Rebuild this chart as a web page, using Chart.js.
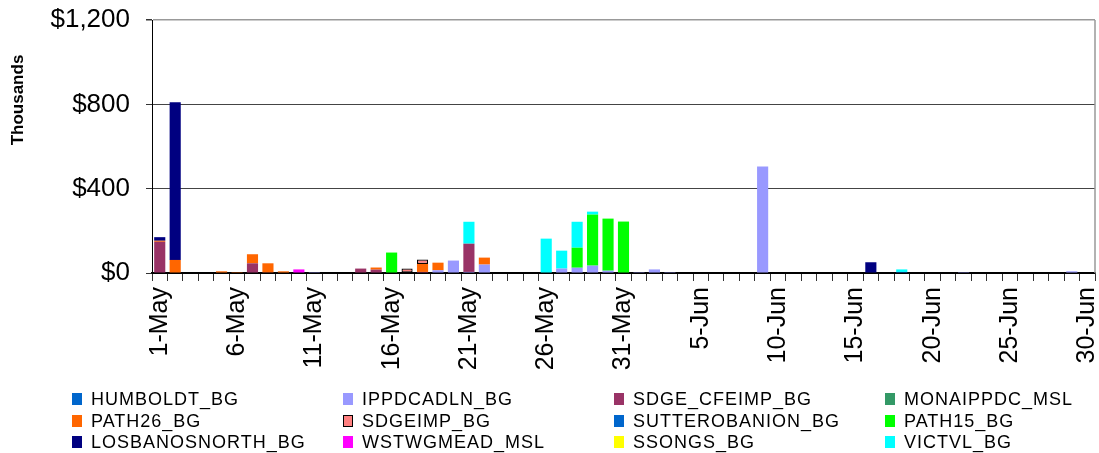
<!DOCTYPE html>
<html>
<head>
<meta charset="utf-8">
<script src="https://cdn.jsdelivr.net/npm/chart.js@4.4.1/dist/chart.umd.min.js"></script>
<style>
  html, body { margin: 0; padding: 0; background: #fff; }
  #wrap { position: relative; width: 1099px; height: 453px; overflow: hidden; }
  #c { position: absolute; left: 0; top: 0; }
  .leg-item { position: absolute; height: 20px; white-space: nowrap; }
  .leg-key { position: absolute; left: 0; top: 4px; width: 10px; height: 12px; box-sizing: border-box; }
  .leg-text { position: absolute; left: 19px; top: 0; font: 18px "Liberation Sans", Arial, sans-serif;
              letter-spacing: 1px; line-height: 20px; color: #000; }
</style>
</head>
<body>
<div id="wrap">
  <canvas id="c" width="1099" height="453"></canvas>
  <div id="legend"></div>
</div>
<script>
// Daily dates, 1 May – 30 Jun
const categories = [
  '1-May','2-May','3-May','4-May','5-May','6-May','7-May','8-May','9-May','10-May',
  '11-May','12-May','13-May','14-May','15-May','16-May','17-May','18-May','19-May','20-May',
  '21-May','22-May','23-May','24-May','25-May','26-May','27-May','28-May','29-May','30-May',
  '31-May','1-Jun','2-Jun','3-Jun','4-Jun','5-Jun','6-Jun','7-Jun','8-Jun','9-Jun',
  '10-Jun','11-Jun','12-Jun','13-Jun','14-Jun','15-Jun','16-Jun','17-Jun','18-Jun','19-Jun',
  '20-Jun','21-Jun','22-Jun','23-Jun','24-Jun','25-Jun','26-Jun','27-Jun','28-Jun','29-Jun',
  '30-Jun'
];

// Y axis ticks ($ thousands)
const yTicks = [0, 400, 800, 1200];

// Daily cost by interface, $ thousands
const HUMBOLDT_BG = [
  0,0,0,0,0,0,0,0,0,0, 0,0,0,0,0,0,0,0,0,0, 0,0,0,0,0,0,0,0,0,0,
  0,0,0,0,0,0,0,0,0,0, 0,0,0,0,0,0,0,0,0,0, 0,0,0,0,0,0,0,0,0,0, 0
];
const IPPDCADLN_BG = [
  0,0,0,0,0,0,0,0,0,0, 4,0,0,0,0,0,0,0,13,59, 5,40,0,0,0,0,21,25,35,11,
  0,4,17,4,0,0,0,0,0,505, 0,0,0,0,0,0,0,0,0,0, 0,0,4,0,0,0,0,0,0,8, 0
];
const SDGE_CFEIMP_BG = [
  148,0,0,0,0,0,46,3,0,0, 0,0,0,21,16,0,0,5,0,0, 134,0,0,0,0,0,0,0,0,0,
  0,0,0,0,0,0,0,0,0,0, 0,0,0,0,0,0,0,0,0,0, 0,0,0,0,0,0,0,0,0,0, 0
];
const MONAIPPDC_MSL = [
  0,0,0,0,0,0,0,0,0,0, 0,0,0,0,0,0,0,0,0,0, 0,0,0,0,0,0,0,0,0,0,
  0,0,0,0,0,0,0,0,0,0, 0,0,0,0,0,0,0,0,0,0, 0,0,0,0,0,0,0,0,0,0, 0
];
const PATH26_BG = [
  5,62,0,0,8,4,43,43,8,0, 0,0,0,0,10,0,0,38,36,0, 0,33,0,0,0,0,0,0,0,0,
  0,0,0,0,0,0,0,0,0,0, 0,0,0,0,0,0,0,0,0,0, 0,0,0,0,0,0,0,0,0,0, 0
];
const SDGEIMP_BG = [
  0,0,0,0,0,0,0,0,0,0, 0,0,0,0,0,0,21,21,0,0, 0,0,0,0,0,0,0,0,0,0,
  0,0,0,0,0,0,0,0,0,0, 0,0,0,0,0,0,0,0,0,0, 0,0,0,0,0,0,0,0,0,0, 0
];
const SUTTEROBANION_BG = [
  0,0,0,0,0,0,0,0,0,0, 0,0,0,0,0,0,0,0,0,0, 0,0,0,0,0,0,0,0,0,0,
  0,0,0,0,0,0,0,0,0,0, 0,0,0,0,0,0,0,0,5,0, 0,0,0,0,0,0,0,0,0,0, 0
];
const PATH15_BG = [
  0,0,0,0,0,0,0,0,0,0, 0,0,0,0,0,97,0,0,0,0, 0,0,0,0,0,0,0,95,242,247,
  244,0,0,0,0,0,0,0,0,0, 0,0,0,0,0,0,0,0,0,0, 0,0,0,0,0,0,0,0,0,0, 0
];
const LOSBANOSNORTH_BG = [
  17,748,0,0,0,0,0,0,0,0, 0,0,0,0,0,0,0,0,0,0, 0,0,0,0,0,0,0,0,0,0,
  0,0,0,0,0,0,0,0,0,0, 0,0,0,0,0,0,51,0,0,0, 0,0,0,0,0,0,0,0,0,0, 0
];
const WSTWGMEAD_MSL = [
  0,0,0,0,0,0,0,0,0,17, 0,0,0,0,0,0,0,0,0,0, 0,0,0,0,0,0,0,0,0,0,
  0,0,0,0,0,0,0,0,0,0, 0,0,0,0,0,0,0,0,0,0, 0,0,0,0,0,0,0,0,0,0, 0
];
const SSONGS_BG = [
  0,0,0,0,0,0,0,0,0,0, 0,0,0,0,0,0,0,0,0,0, 0,0,0,0,0,0,0,0,0,0,
  0,0,0,0,0,0,0,0,0,0, 0,0,0,0,0,0,0,0,0,0, 0,0,0,0,0,0,0,0,0,0, 0
];
const VICTVL_BG = [
  0,0,0,0,0,0,0,0,0,0, 0,0,0,0,0,0,0,0,0,0, 104,0,0,0,0,163,85,123,14,0,
  0,0,0,0,0,0,0,0,0,0, 0,0,0,0,0,0,0,0,12,0, 0,0,0,0,0,0,0,0,0,0, 0
];

const seriesNames = [
  'HUMBOLDT_BG', 'IPPDCADLN_BG', 'SDGE_CFEIMP_BG', 'MONAIPPDC_MSL',
  'PATH26_BG', 'SDGEIMP_BG', 'SUTTEROBANION_BG', 'PATH15_BG',
  'LOSBANOSNORTH_BG', 'WSTWGMEAD_MSL', 'SSONGS_BG', 'VICTVL_BG'
];
const seriesValues = [
  HUMBOLDT_BG, IPPDCADLN_BG, SDGE_CFEIMP_BG, MONAIPPDC_MSL,
  PATH26_BG, SDGEIMP_BG, SUTTEROBANION_BG, PATH15_BG,
  LOSBANOSNORTH_BG, WSTWGMEAD_MSL, SSONGS_BG, VICTVL_BG
];
const seriesColors = [
  '#0066CC', '#9999FF', '#993366', '#339966',
  '#FF6600', '#FF8080', '#0066CC', '#00FF00',
  '#000080', '#FF00FF', '#FFFF00', '#00FFFF'
];
const outlined = { 'SDGEIMP_BG': true };

const FONT = '"Liberation Sans", Arial, sans-serif';

const datasets = seriesNames.map((name, i) => ({
  label: name,
  data: seriesValues[i],
  backgroundColor: seriesColors[i],
  borderColor: '#000',
  borderWidth: outlined[name] ? (c => (c.raw ? 1.3 : 0)) : 0,
  borderSkipped: false,
  stack: 'all'
}));

// Frame on the right of the plot and the rotated axis caption
const framePlugin = {
  id: 'frame',
  afterDraw(chart) {
    const { ctx, chartArea: a } = chart;
    ctx.save();
    ctx.strokeStyle = '#999';
    ctx.lineWidth = 1.5;
    ctx.beginPath();
    ctx.moveTo(a.right, a.top);
    ctx.lineTo(a.right, a.bottom);
    ctx.stroke();
    ctx.translate(18, 100);
    ctx.rotate(-Math.PI / 2);
    ctx.fillStyle = '#000';
    ctx.font = 'bold 17px ' + FONT;
    ctx.textAlign = 'center';
    ctx.textBaseline = 'middle';
    ctx.fillText('Thousands', 0, 0);
    ctx.restore();
  }
};

new Chart(document.getElementById('c'), {
  type: 'bar',
  data: { labels: categories, datasets },
  plugins: [framePlugin],
  options: {
    responsive: false,
    animation: false,
    events: [],
    layout: { padding: { top: 20, right: 4, left: 0, bottom: 80 } },
    plugins: { legend: { display: false }, tooltip: { enabled: false } },
    datasets: { bar: { categoryPercentage: 1, barPercentage: 0.72 } },
    scales: {
      x: {
        stacked: true,
        offset: true,
        grid: { offset: true, drawOnChartArea: false, drawTicks: true, tickLength: 8, tickColor: '#333', lineWidth: 1 },
        border: { display: true, color: '#000', width: 1.5 },
        ticks: {
          autoSkip: false, maxRotation: 90, minRotation: 90, padding: 6,
          color: '#000', font: { family: FONT, size: 25 },
          callback: (v, i) => (i % 5 === 0 ? categories[i] : '')
        },
        afterFit(s) { s.height = 100; s.paddingLeft = 0; s.paddingRight = 0; }
      },
      y: {
        stacked: true,
        min: yTicks[0],
        max: yTicks[yTicks.length - 1],
        afterBuildTicks(s) { s.ticks = yTicks.map(v => ({ value: v })); },
        ticks: {
          padding: 16, color: '#000', font: { family: FONT, size: 26 },
          callback: v => '$' + Number(v).toLocaleString('en-US')
        },
        grid: {
          color: c => (c.tick && c.tick.value === 1200 ? '#999' : (c.tick && c.tick.value === 0 ? '#000' : '#444')),
          lineWidth: c => (c.tick && c.tick.value === 1200 ? 1.5 : 1),
          tickColor: '#333', tickLength: 6, drawTicks: true
        },
        border: { display: true, color: '#000', width: 1 },
        afterFit(s) { s.width = 152; s.paddingTop = 0; s.paddingBottom = 0; }
      }
    }
  }
});

// Legend laid out in a 4-column grid
const legendCols = [72, 343, 614, 885];
const legendRows = [389, 410.5, 432];
const legend = document.getElementById('legend');
seriesNames.forEach((name, i) => {
  const item = document.createElement('div');
  item.className = 'leg-item';
  item.style.left = legendCols[i % 4] + 'px';
  item.style.top = legendRows[Math.floor(i / 4)] + 'px';
  const key = document.createElement('div');
  key.className = 'leg-key';
  key.style.background = seriesColors[i];
  if (outlined[name]) key.style.border = '1.5px solid #000';
  const txt = document.createElement('div');
  txt.className = 'leg-text';
  txt.textContent = name;
  item.appendChild(key);
  item.appendChild(txt);
  legend.appendChild(item);
});
</script>
</body>
</html>
